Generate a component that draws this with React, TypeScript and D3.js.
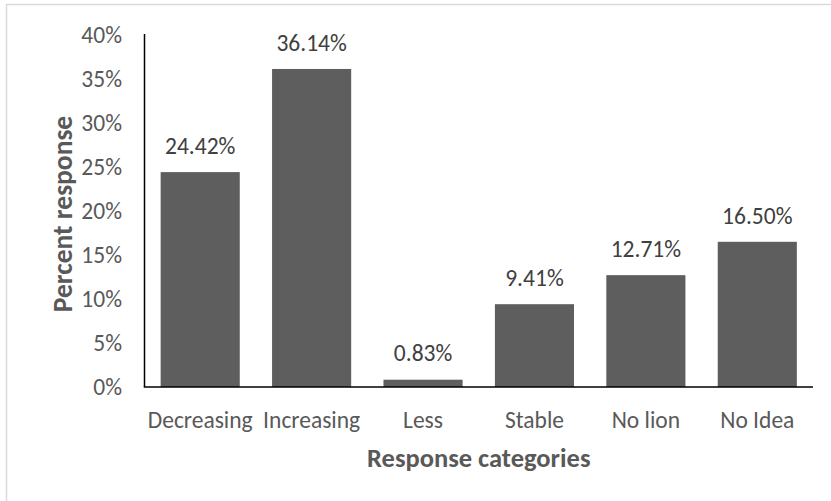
import React from "react";
import * as d3 from "d3";

const categories = ["Decreasing", "Increasing", "Less", "Stable", "No lion", "No Idea"];
const values = [24.42, 36.14, 0.83, 9.41, 12.71, 16.5];
const yTicks = [0, 5, 10, 15, 20, 25, 30, 35, 40];

const W = 831;
const H = 501;
const FONT = "Carlito, Calibri, Lato, sans-serif";

export default function App() {
  const left = 144.5;
  const right = 813;
  const top = 35;
  const bottom = 387;
  const x = d3.scaleBand<string>().domain(categories).range([left, right]).paddingInner(0.29).paddingOuter(0.145);
  const y = d3.scaleLinear().domain([0, 40]).range([bottom, top]);

  return (
    <svg width={W} height={H} style={{ position: "absolute", left: 0, top: 0, background: "#fff" }}>
      <rect x={6.5} y={4.5} width={W + 10} height={H + 10} fill="#fff" stroke="#d9d9d9" strokeWidth={1.5} />
      {categories.map((c, i) => (
        <rect key={c} x={x(c)} y={y(values[i])} width={x.bandwidth()} height={y(0) - y(values[i])} fill="#5e5e5e" />
      ))}
      {categories.map((c, i) => (
        <text key={"v" + c} x={(x(c) as number) + x.bandwidth() / 2} y={y(values[i]) - 26.5} dy="0.35em" textAnchor="middle"
          fontFamily={FONT} fontSize={23.5} fill="#404040">
          {values[i].toFixed(2)}%
        </text>
      ))}
      <line x1={left} x2={left} y1={top - 1} y2={bottom} stroke="#000" strokeWidth={1.5} />
      <line x1={left - 0.75} x2={right} y1={bottom} y2={bottom} stroke="#000" strokeWidth={1.5} />
      {yTicks.map((t) => (
        <text key={t} x={122} y={y(t)} dy="0.35em" textAnchor="end" fontFamily={FONT} fontSize={23.5} fill="#595959">
          {t}%
        </text>
      ))}
      {categories.map((c) => (
        <text key={"c" + c} x={(x(c) as number) + x.bandwidth() / 2} y={420} dy="0.35em" textAnchor="middle"
          fontFamily={FONT} fontSize={23.5} fill="#595959">
          {c}
        </text>
      ))}
      <text x={(left + right) / 2} y={458} dy="0.35em" textAnchor="middle" fontFamily={FONT} fontSize={26.5}
        fontWeight="bold" fill="#595959">
        Response categories
      </text>
      <text transform={`translate(62,${(top + bottom) / 2 + 3}) rotate(-90)`} dy="0.35em" textAnchor="middle"
        fontFamily={FONT} fontSize={27.5} fontWeight="bold" fill="#595959">
        Percent response
      </text>
    </svg>
  );
}
